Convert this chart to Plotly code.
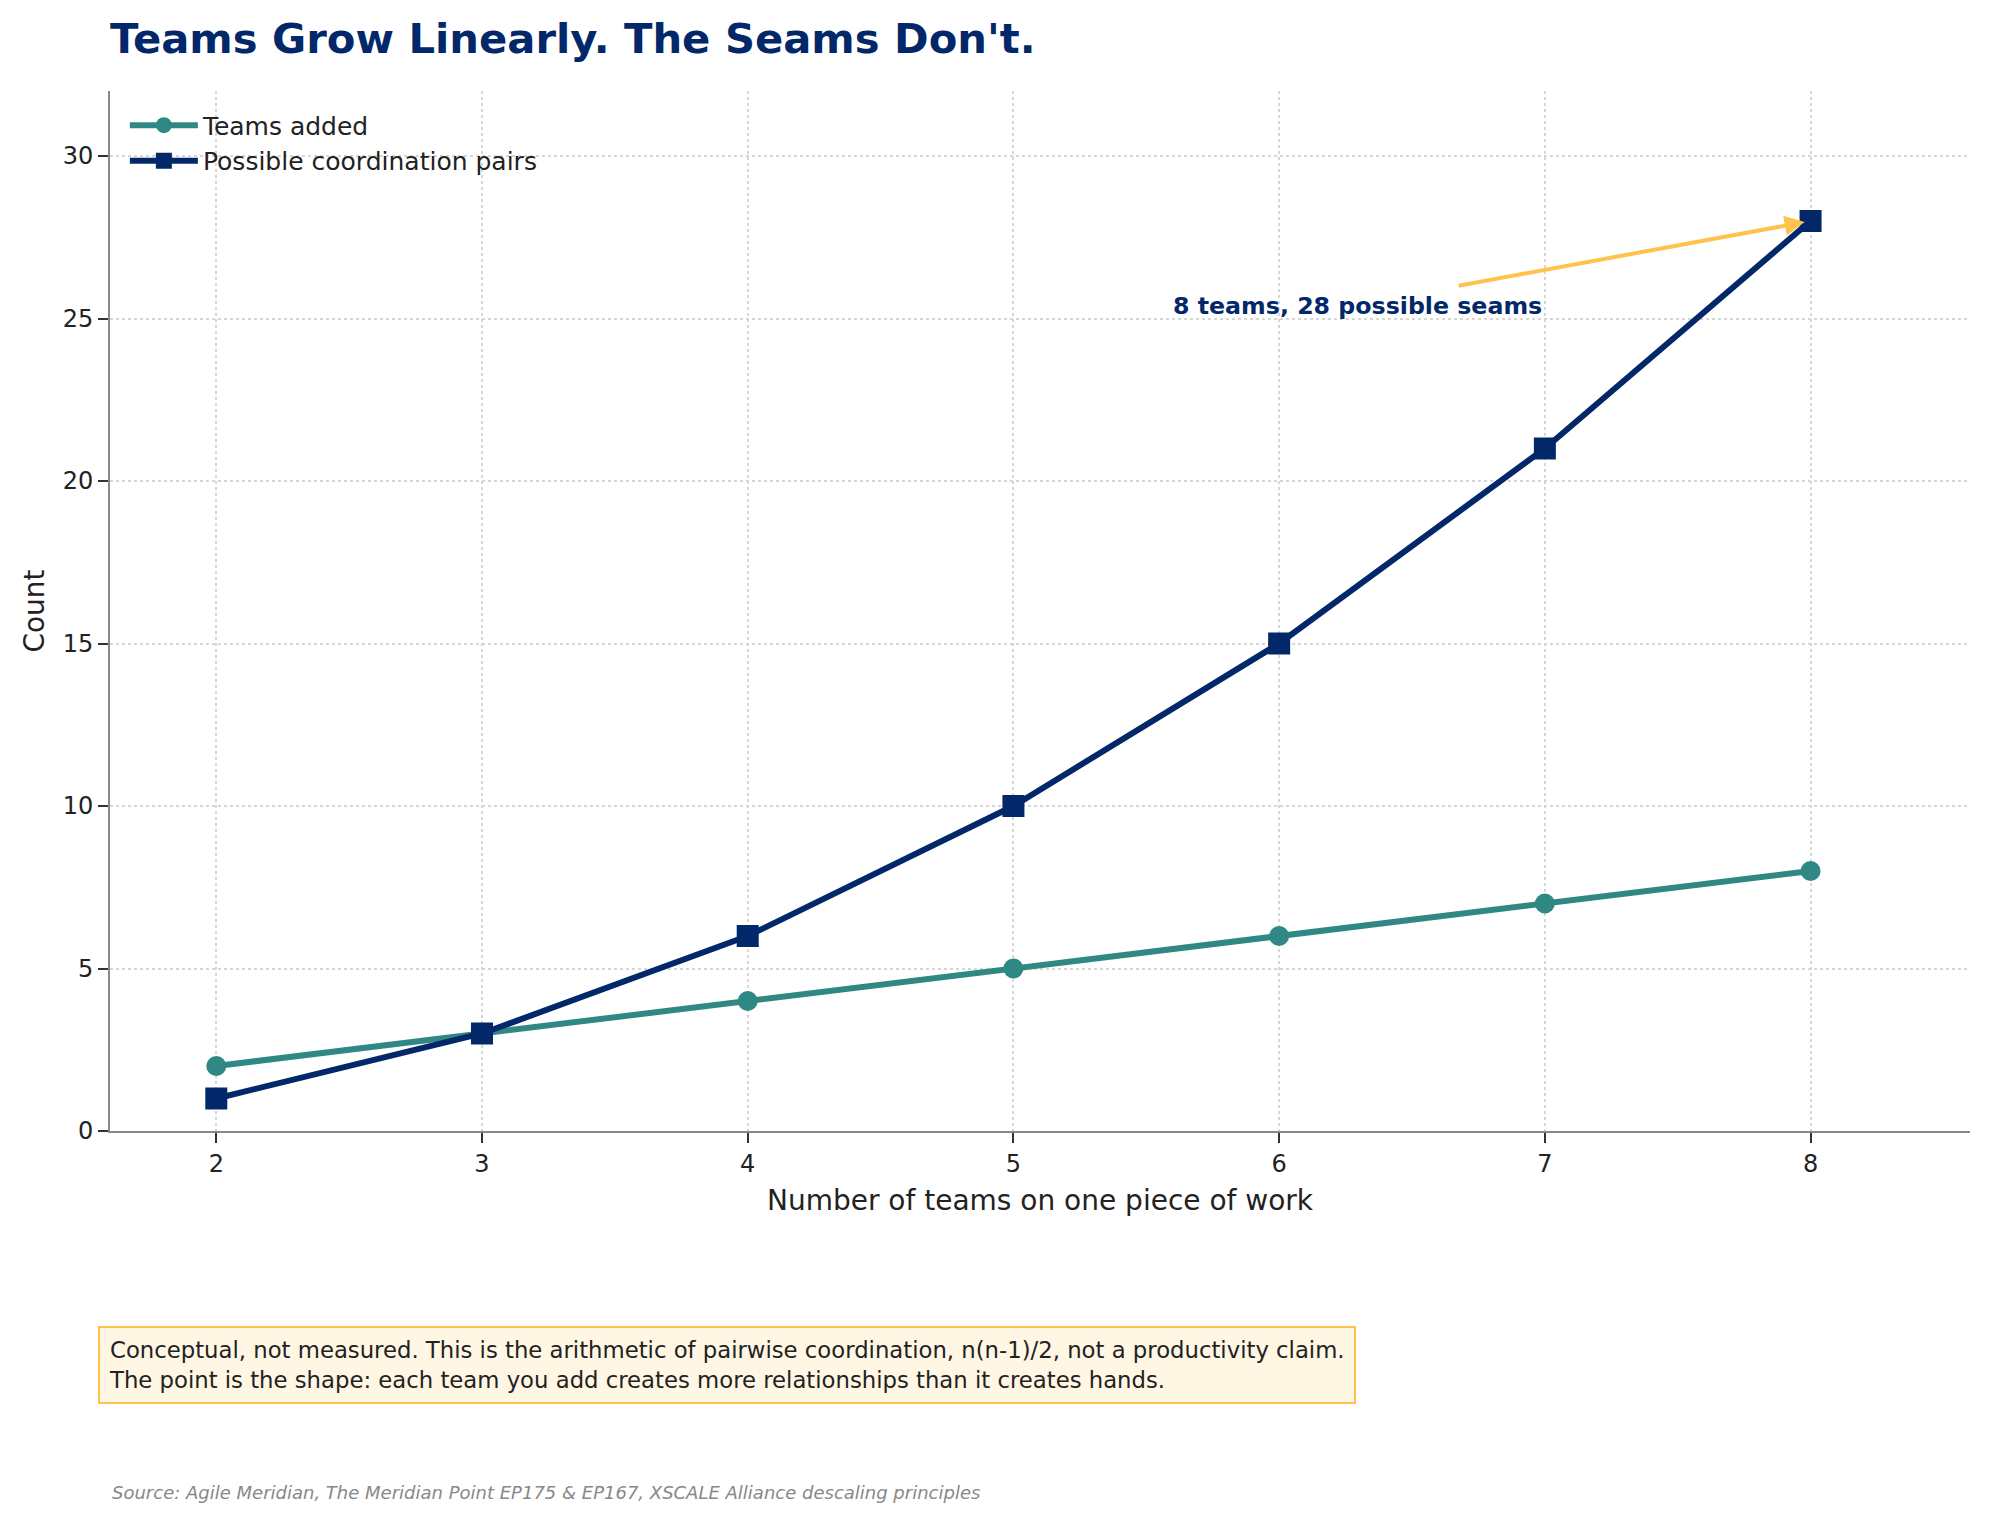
import plotly.graph_objects as go

# data
teams = [2, 3, 4, 5, 6, 7, 8]
teams_added = [2, 3, 4, 5, 6, 7, 8]
coordination_pairs = [1, 3, 6, 10, 15, 21, 28]
x_ticks = [2, 3, 4, 5, 6, 7, 8]
y_ticks = [0, 5, 10, 15, 20, 25, 30]

NAVY = "#03286A"
TEAL = "#2F8884"
GOLD = "#FFC34D"
FONT = "DejaVu Sans"

# the page body keeps its 8px margin, so the figure is a bit smaller than the window
W, H = 1982, 1514

fig = go.Figure()
fig.add_trace(go.Scatter(
    x=teams, y=teams_added, name="Teams added", mode="lines+markers",
    line=dict(color=TEAL, width=6),
    marker=dict(symbol="circle", size=20, color=TEAL),
))
fig.add_trace(go.Scatter(
    x=teams, y=coordination_pairs, name="Possible coordination pairs", mode="lines+markers",
    line=dict(color=NAVY, width=6),
    marker=dict(symbol="square", size=22, color=NAVY),
))

# arrow to the last point
fig.add_annotation(
    x=8, y=28, ax=6.67, ay=26.0, xref="x", yref="y", axref="x", ayref="y",
    text="", showarrow=True, arrowhead=2, arrowsize=1, arrowwidth=4,
    arrowcolor=GOLD, standoff=6,
)
fig.add_annotation(
    x=6.995, y=25.4, xref="x", yref="y", xanchor="right", yanchor="middle",
    text="<b>8 teams, 28 possible seams</b>", showarrow=False,
    font=dict(family=FONT, size=23.7, color=NAVY),
)

# footnote box
fig.add_annotation(
    x=-0.0062, y=-0.1875, xref="paper", yref="paper", xanchor="left", yanchor="top",
    text=("Conceptual, not measured. This is the arithmetic of pairwise coordination, n(n-1)/2, "
          "not a productivity claim.<br>The point is the shape: each team you add creates more "
          "relationships than it creates hands."),
    align="left", showarrow=False,
    font=dict(family=FONT, size=22.75, color="#222222"),
    bgcolor="#FFF6E4", bordercolor=GOLD, borderwidth=2, borderpad=9,
)
fig.add_annotation(
    x=0, y=-0.348, xref="paper", yref="paper", xanchor="left", yanchor="middle",
    text="<i>Source: Agile Meridian, The Meridian Point EP175 &amp; EP167, XSCALE Alliance descaling principles</i>",
    showarrow=False, font=dict(family=FONT, size=18, color="#888888"),
)

axis_common = dict(
    showline=True, linecolor="#888888", linewidth=2, mirror=False,
    ticks="outside", ticklen=10, tickwidth=2, tickcolor="#333333",
    showgrid=True, gridcolor="#D6D6D6", griddash="dot", gridwidth=1.5,
    zeroline=False, tickfont=dict(family=FONT, size=24, color="#222222"),
)
fig.update_xaxes(
    range=[1.6, 8.6], tickvals=x_ticks,
    title=dict(text="Number of teams on one piece of work", standoff=14,
               font=dict(family=FONT, size=28, color="#222222")),
    **axis_common,
)
fig.update_yaxes(
    range=[0, 32], tickvals=y_ticks,
    title=dict(text="Count", standoff=10, font=dict(family=FONT, size=28, color="#222222")),
    **axis_common,
)

fig.update_layout(
    width=W, height=H,
    margin=dict(l=102, r=20, t=83, b=391),
    paper_bgcolor="white", plot_bgcolor="white",
    title=dict(text="<b>Teams Grow Linearly. The Seams Don't.</b>",
               x=102 / W, xanchor="left", y=1 - 30 / H, yanchor="middle",
               font=dict(family=FONT, size=41.7, color=NAVY)),
    legend=dict(x=0.008, y=0.989, xanchor="left", yanchor="top",
                bgcolor="rgba(0,0,0,0)", itemwidth=68,
                font=dict(family=FONT, size=25, color="#222222")),
    showlegend=True,
)

fig.write_html("out.html")
